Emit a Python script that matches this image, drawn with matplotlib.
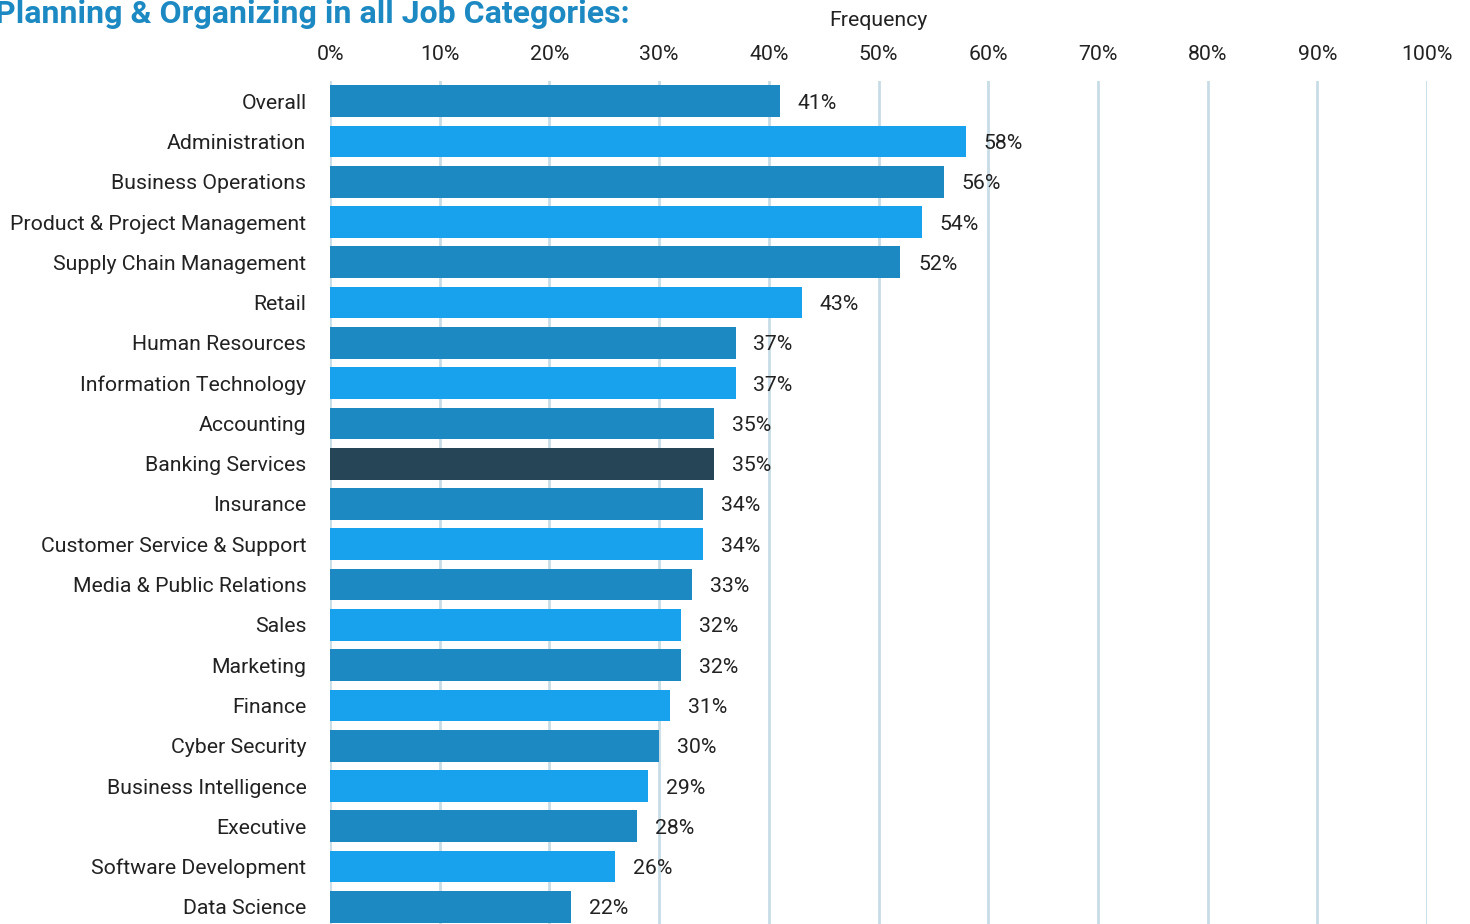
import matplotlib.pyplot as plt
from matplotlib.ticker import FuncFormatter

plt.rcParams['font.family'] = ['Roboto', 'DejaVu Sans']

# Datos: frecuencia por categoría de trabajo (%)
categorias = ['Overall', 'Administration', 'Business Operations',
              'Product & Project Management', 'Supply Chain Management',
              'Retail', 'Human Resources', 'Information Technology',
              'Accounting', 'Banking Services', 'Insurance',
              'Customer Service & Support', 'Media & Public Relations',
              'Sales', 'Marketing', 'Finance', 'Cyber Security',
              'Business Intelligence', 'Executive', 'Software Development',
              'Data Science']
valores = [41, 58, 56, 54, 52, 43, 37, 37, 35, 35, 34, 34, 33, 32, 32,
           31, 30, 29, 28, 26, 22]
destacada = 'Banking Services'

azul_oscuro = '#1d89c2'
azul_claro = '#18a2ee'
azul_marino = '#264658'

colores = []
for i, c in enumerate(categorias):
    if c == destacada:
        colores.append(azul_marino)
    elif i % 2 == 0:
        colores.append(azul_oscuro)
    else:
        colores.append(azul_claro)

fig = plt.figure(figsize=(14.7, 9.24), dpi=100)
ax = fig.add_axes([330 / 1470, 1 - 927 / 924, 1097 / 1470, 846 / 924])

pos = list(range(len(categorias)))
ax.barh(pos, valores, height=0.79, color=colores, zorder=2)
ax.set_ylim(len(categorias) - 0.5, -0.5)
ax.set_xlim(0, 100)

# Etiquetas de valor al final de cada barra
for p, v in zip(pos, valores):
    ax.text(v + 1.6, p, f'{v}%', va='center_baseline', ha='left',
            fontsize=15.3, color='#222222')

ax.set_yticks(pos)
ax.set_yticklabels(categorias, fontsize=15.3, color='#222222')
ax.set_xticks(range(0, 101, 10))
ax.xaxis.set_major_formatter(FuncFormatter(lambda x, _: f'{x:.0f}%'))
ax.xaxis.tick_top()
ax.tick_params(axis='x', length=0, pad=12, labelsize=15.3, labelcolor='#222222')
ax.tick_params(axis='y', length=0, pad=17)
ax.xaxis.set_label_position('top')
ax.set_xlabel('Frequency', fontsize=15.3, color='#222222', labelpad=14)

ax.grid(axis='x', color='#c8dce6', linewidth=2, zorder=0)
ax.grid(axis='y', visible=False)
for s in ax.spines.values():
    s.set_visible(False)

fig.text(-5 / 1470, 1 - 14 / 924, 'Planning & Organizing in all Job Categories:',
         fontsize=23, fontweight='bold', color='#1d89c2', va='center', ha='left')

fig.savefig('out.png', dpi=100)
